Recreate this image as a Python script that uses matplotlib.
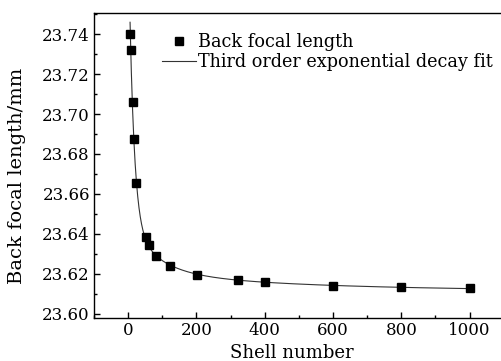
import matplotlib
matplotlib.use("Agg")
import matplotlib.pyplot as plt
import numpy as np
from matplotlib.ticker import MultipleLocator

# shell number vs. back focal length
shells = np.array([6, 8, 13, 16, 23, 52, 61, 83, 122, 202, 323, 401, 600, 800, 1000])
bfl = np.array([23.740, 23.732, 23.706, 23.6875, 23.6655, 23.6385, 23.6345,
                23.629, 23.624, 23.6195, 23.617, 23.616, 23.6142, 23.6133, 23.6128])

# decay constants of the third order exponential fit (amplitudes fitted below)
taus = [14.0, 80.0, 480.0]

def design(x):
    return np.column_stack([np.ones_like(x, dtype=float)] + [np.exp(-x / t) for t in taus])

coef, *_ = np.linalg.lstsq(design(shells.astype(float)), bfl, rcond=None)
xfit = np.linspace(5.6, 1000, 800)
yfit = design(xfit) @ coef

plt.rcParams['font.family'] = ['DejaVu Serif']
plt.rcParams['mathtext.fontset'] = 'dejavuserif'

fig = plt.figure(figsize=(5.02, 3.61), dpi=100)
ax = fig.add_axes([94 / 502, 43 / 361, 409.8 / 502, 305 / 361])

ax.plot(xfit, yfit, color='#333333', lw=0.8, label='Third order exponential decay fit', zorder=2)
ax.plot(shells, bfl, 's', color='black', ms=5.5, label='Back focal length', zorder=3)

ax.set_xlim(-100, 1100)
ax.set_ylim(23.598, 23.7505)
ax.set_xticks([0, 200, 400, 600, 800, 1000])
ax.set_yticks(np.arange(23.60, 23.741, 0.02))
ax.yaxis.set_major_formatter(matplotlib.ticker.FormatStrFormatter('%.2f'))
ax.xaxis.set_minor_locator(MultipleLocator(100))
ax.yaxis.set_minor_locator(MultipleLocator(0.01))
ax.tick_params(which='both', direction='in', labelsize=12, width=1)
ax.tick_params(which='major', length=4.5, pad=3)
ax.tick_params(which='minor', length=2.5)
for s in ax.spines.values():
    s.set_linewidth(1)

ax.set_xlabel('Shell number', fontsize=13)
ax.set_ylabel('Back focal length/mm', fontsize=14)
ax.xaxis.set_label_coords(0.483, -0.085)
ax.yaxis.set_label_coords(-0.165, 0.465)

h, l = ax.get_legend_handles_labels()
ax.legend(h[::-1], l[::-1], loc='upper left', bbox_to_anchor=(0.166, 0.935), frameon=False,
          fontsize=12.7, handlelength=1.9, handletextpad=0.12, labelspacing=0.15,
          borderaxespad=0, borderpad=0)

fig.savefig('out.png', dpi=100)
